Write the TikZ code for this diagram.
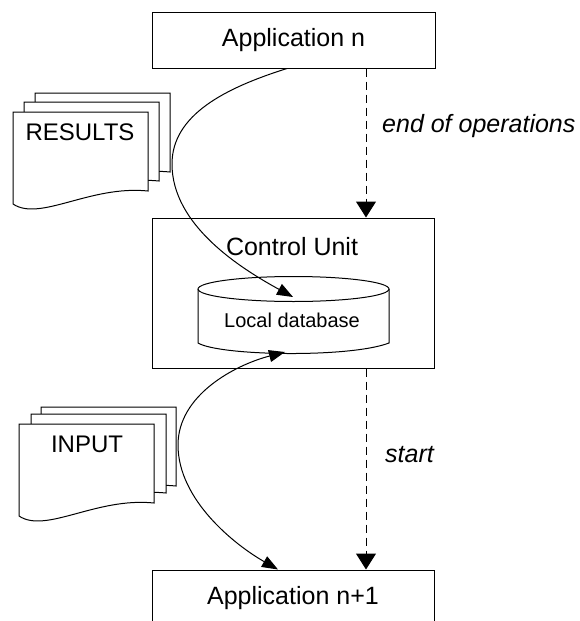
\documentclass[tikz,border=0pt]{standalone}
\usepackage{fontspec}
\setmainfont{Liberation Sans}
\usetikzlibrary{arrows.meta}
\tikzset{
  lw/.style={line width=1pt},
  appbox/.style={lw, draw, fill=white, minimum width=283pt, minimum height=56pt, inner sep=0pt,
                 font=\fontsize{25}{30}\selectfont},
  ctrlbox/.style={lw, draw, minimum width=282pt, minimum height=150pt, inner sep=0pt},
  lbl/.style={inner sep=0pt, font=\fontsize{25}{30}\selectfont},
  flowlbl/.style={inner sep=0pt, anchor=base west, font=\fontsize{25}{30}\selectfont\itshape},
  doclbl/.style={inner sep=0pt, anchor=base, font=\fontsize{24}{28}\selectfont},
  dblbl/.style={inner sep=0pt, anchor=base, font=\fontsize{20}{24}\selectfont},
  flow/.style={lw, dashed, dash pattern=on 8pt off 5pt, -{Triangle[length=16pt,width=20pt]}},
  dataflow/.style={lw, -{Triangle[length=16pt,width=12pt]}},
  docpage/.pic={\draw[lw, fill=white] (0,0) -- (135,0) -- (135,79)
      .. controls (77,73) and (27,110) .. (0,92) -- cycle;}
}
\begin{document}
\begin{tikzpicture}[x=1pt, y=-1pt]
  \useasboundingbox (0,0) rectangle (580,621);
  \clip (0,0) rectangle (580,621);

  % application boxes and the control unit
  \node[appbox] (appn) at (293.5,40) {Application n};
  \node[ctrlbox] (cu) at (293,293) {};
  \node[lbl, anchor=base] (cutext) at (292,255) {Control Unit};
  \node[appbox, minimum width=282pt] (appnext) at (293,598) {Application n+1};

  % local database cylinder
  \draw[lw, fill=white] (198,289) -- (198,343) .. controls (220,356) and (350,358) .. (389,343) -- (389,289);
  \draw[lw] (293.5,289) ellipse [x radius=95.5, y radius=12.5];
  \node[dblbl] (db) at (292,327) {Local database};
  \coordinate (dbtop) at (293,297);
  \coordinate (dbbottom) at (285,352);

  % stack of result documents
  \pic at (35,93) {docpage};
  \pic at (24,102) {docpage};
  \pic at (13,112) {docpage};
  \node[doclbl] (results) at (80,140) {RESULTS};

  % stack of input documents
  \pic at (41,407) {docpage};
  \pic at (31,414) {docpage};
  \pic at (19,424) {docpage};
  \node[doclbl] (input) at (87,452) {INPUT};

  % points where the data flows touch the document stacks
  \coordinate (resultsedge) at (172,164);
  \coordinate (inputedge) at (178,445);

  % control flow
  \coordinate (dx) at (366,0);
  \draw[flow] (appn.south -| dx) -- (cu.north -| dx);
  \draw[flow] (cu.south -| dx) -- (appnext.north -| dx);
  \node[flowlbl] (endops) at (382,132) {end of operations};
  \node[flowlbl] (start) at (385,462) {start};

  % data flows
  \draw[dataflow] (appn.south -| 287,0) .. controls (225,88) and (172,115) .. (resultsedge)
        .. controls (172,225) and (240,268) .. (dbtop);
  \draw[dataflow, {Triangle[length=16pt,width=12pt]}-{Triangle[length=16pt,width=12pt]}]
        (dbbottom) .. controls (235,365) and (178,395) .. (inputedge)
        .. controls (178,500) and (235,545) .. (appnext.north -| 278,0);
\end{tikzpicture}
\end{document}
